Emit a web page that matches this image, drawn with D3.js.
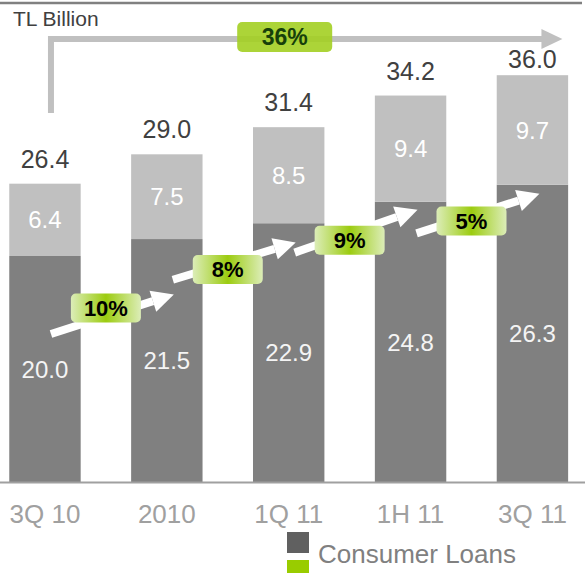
<!DOCTYPE html>
<html><head><meta charset="utf-8">
<script src="https://cdn.jsdelivr.net/npm/d3@7"></script>
<style>html,body{margin:0;padding:0;background:#fff;} svg{display:block;font-family:"Liberation Sans",Arial,sans-serif;}</style>
</head><body><svg id="c" width="585" height="573"></svg>
<script>
// ---- data ----
const categories = ["3Q 10", "2010", "1Q 11", "1H 11", "3Q 11"];
const consumerLoans = [20.0, 21.5, 22.9, 24.8, 26.3];
const otherLoans = [6.4, 7.5, 8.5, 9.4, 9.7];
const totals = [26.4, 29.0, 31.4, 34.2, 36.0];
const growthLabels = ["10%", "8%", "9%", "5%"];
const overallGrowth = "36%";
const unitLabel = "TL Billion";
const legendLabels = ["Consumer Loans", ""];

// ---- annotation layout (value-space positions of growth arrows / badges) ----
const annot = {
  arrowFrom: [13.1, 17.9, 20.3, 22.0],
  arrowTo: [16.6, 21.2, 24.1, 25.5],
  badgeAt: [15.4, 18.8, 21.4, 23.1]
};

const svg = d3.select("#c");
const font = '"Liberation Sans", Arial, sans-serif';
const x = d3.scaleBand().domain(categories).range([0, 577.4]).paddingInner(0.414).paddingOuter(0.076);
const y = d3.scaleLinear().domain([0, 36]).range([482, 482 - 36 * 11.3]);
const cx = c => x(c) + x.bandwidth() / 2;

const defs = svg.append("defs");
const grad = defs.append("linearGradient").attr("id", "bg").attr("x1", "0%").attr("x2", "100%").attr("y1", "0%").attr("y2", "0%");
grad.append("stop").attr("offset", "0%").attr("stop-color", "#dcedb8");
grad.append("stop").attr("offset", "50%").attr("stop-color", "#9ccc10");
grad.append("stop").attr("offset", "100%").attr("stop-color", "#dcedb8");

// top rule
svg.append("line").attr("x1", 0).attr("x2", 582).attr("y1", 3).attr("y2", 3)
  .attr("stroke", "#808080").attr("stroke-width", 2.5);

// bars
const bars = svg.append("g");
bars.selectAll("rect.dark").data(categories).join("rect").attr("class", "dark")
  .attr("x", d => x(d)).attr("width", x.bandwidth())
  .attr("y", (d, i) => y(consumerLoans[i]))
  .attr("height", (d, i) => y(0) - y(consumerLoans[i]))
  .attr("fill", "#808080");
bars.selectAll("rect.light").data(categories).join("rect").attr("class", "light")
  .attr("x", d => x(d)).attr("width", x.bandwidth())
  .attr("y", (d, i) => y(consumerLoans[i] + otherLoans[i]))
  .attr("height", (d, i) => y(consumerLoans[i]) - y(consumerLoans[i] + otherLoans[i]))
  .attr("fill", "#c0c0c0");

// baseline
svg.append("line").attr("x1", 0).attr("x2", 585).attr("y1", y(0) + 0.5).attr("y2", y(0) + 0.5)
  .attr("stroke", "#a0a0a0").attr("stroke-width", 2);

// x axis labels
const axis = svg.append("g").attr("transform", `translate(0,${y(0)})`)
  .call(d3.axisBottom(x).tickSize(0).tickPadding(23));
axis.select(".domain").remove();
axis.selectAll("text").attr("font-family", font).attr("font-size", 26).attr("fill", "#a0a0a0");

// segment labels
svg.selectAll("text.dl").data(categories).join("text").attr("class", "dl")
  .attr("x", d => cx(d)).attr("y", (d, i) => (y(0) + y(consumerLoans[i])) / 2)
  .attr("dy", "0.36em").attr("text-anchor", "middle")
  .attr("font-size", 24).attr("fill", "#f4f4f4")
  .text((d, i) => consumerLoans[i].toFixed(1));
svg.selectAll("text.ll").data(categories).join("text").attr("class", "ll")
  .attr("x", d => cx(d)).attr("y", (d, i) => (y(consumerLoans[i]) + y(consumerLoans[i] + otherLoans[i])) / 2)
  .attr("dy", "0.36em").attr("text-anchor", "middle")
  .attr("font-size", 24).attr("fill", "#ffffff")
  .text((d, i) => otherLoans[i].toFixed(1));
svg.selectAll("text.tl").data(categories).join("text").attr("class", "tl")
  .attr("x", d => cx(d)).attr("y", (d, i) => Math.max(y(totals[i]) - 16, 68))
  .attr("text-anchor", "middle")
  .attr("font-size", 25).attr("fill", "#404040")
  .text((d, i) => totals[i].toFixed(1));

// unit label
svg.append("text").attr("x", 13).attr("y", 26).attr("font-size", 21).attr("fill", "#404040").text(unitLabel);

// overall growth arrow
const gx0 = cx(categories[0]) + 6, gx1 = cx(categories[categories.length - 1]) + 30;
svg.append("path").attr("d", `M${gx0},113 V39 H${gx1 - 20}`)
  .attr("fill", "none").attr("stroke", "#c0c0c0").attr("stroke-width", 6);
svg.append("path").attr("d", `M${gx1 - 21},29 L${gx1},39 L${gx1 - 21},49 Z`).attr("fill", "#c0c0c0");
const bcx = (cx(categories[0]) + cx(categories[categories.length - 1])) / 2 - 4;
svg.append("rect").attr("x", bcx - 47.5).attr("y", 22).attr("width", 95).attr("height", 30).attr("rx", 5)
  .attr("fill", "#a3cf22").attr("fill-opacity", 0.9);
svg.append("text").attr("x", bcx).attr("y", 37).attr("dy", "0.36em").attr("text-anchor", "middle")
  .attr("font-size", 23).attr("font-weight", "bold").attr("fill", "#16400a").text(overallGrowth);

// period growth arrows
growthLabels.forEach((lab, i) => {
  const x0 = cx(categories[i]) + 6, y0 = y(annot.arrowFrom[i]);
  const x1 = cx(categories[i + 1]) + 7, y1 = y(annot.arrowTo[i]);
  const dx = x1 - x0, dy = y1 - y0, len = Math.hypot(dx, dy);
  const ux = dx / len, uy = dy / len, nx = -uy, ny = ux;
  const L = 22, Wd = 11;
  svg.append("line").attr("x1", x0).attr("y1", y0).attr("x2", x1 - ux * L).attr("y2", y1 - uy * L)
    .attr("stroke", "#fff").attr("stroke-width", 8);
  const bx = x1 - ux * L, by = y1 - uy * L;
  svg.append("path").attr("d", `M${x1},${y1} L${bx + nx * Wd},${by + ny * Wd} L${bx - nx * Wd},${by - ny * Wd} Z`).attr("fill", "#fff");
  const gcx = (x(categories[i]) + x.bandwidth() + x(categories[i + 1])) / 2;
  const gcy = y(annot.badgeAt[i]);
  svg.append("rect").attr("x", gcx - 35).attr("y", gcy - 14.5).attr("width", 70).attr("height", 29).attr("rx", 5)
    .attr("fill", "url(#bg)");
  svg.append("text").attr("x", gcx).attr("y", gcy).attr("dy", "0.36em").attr("text-anchor", "middle")
    .attr("font-size", 22).attr("font-weight", "bold").attr("fill", "#000").text(lab);
});

// legend
svg.append("rect").attr("x", 287).attr("y", 532).attr("width", 22).attr("height", 21).attr("fill", "#606060");
svg.append("rect").attr("x", 287).attr("y", 560).attr("width", 22).attr("height", 21).attr("fill", "#99cc00");
svg.append("text").attr("x", 318).attr("y", 563).attr("font-size", 26).attr("fill", "#808080").text(legendLabels[0]);
svg.append("text").attr("x", 318).attr("y", 591).attr("font-size", 26).attr("fill", "#808080").text(legendLabels[1]);
</script></body></html>
